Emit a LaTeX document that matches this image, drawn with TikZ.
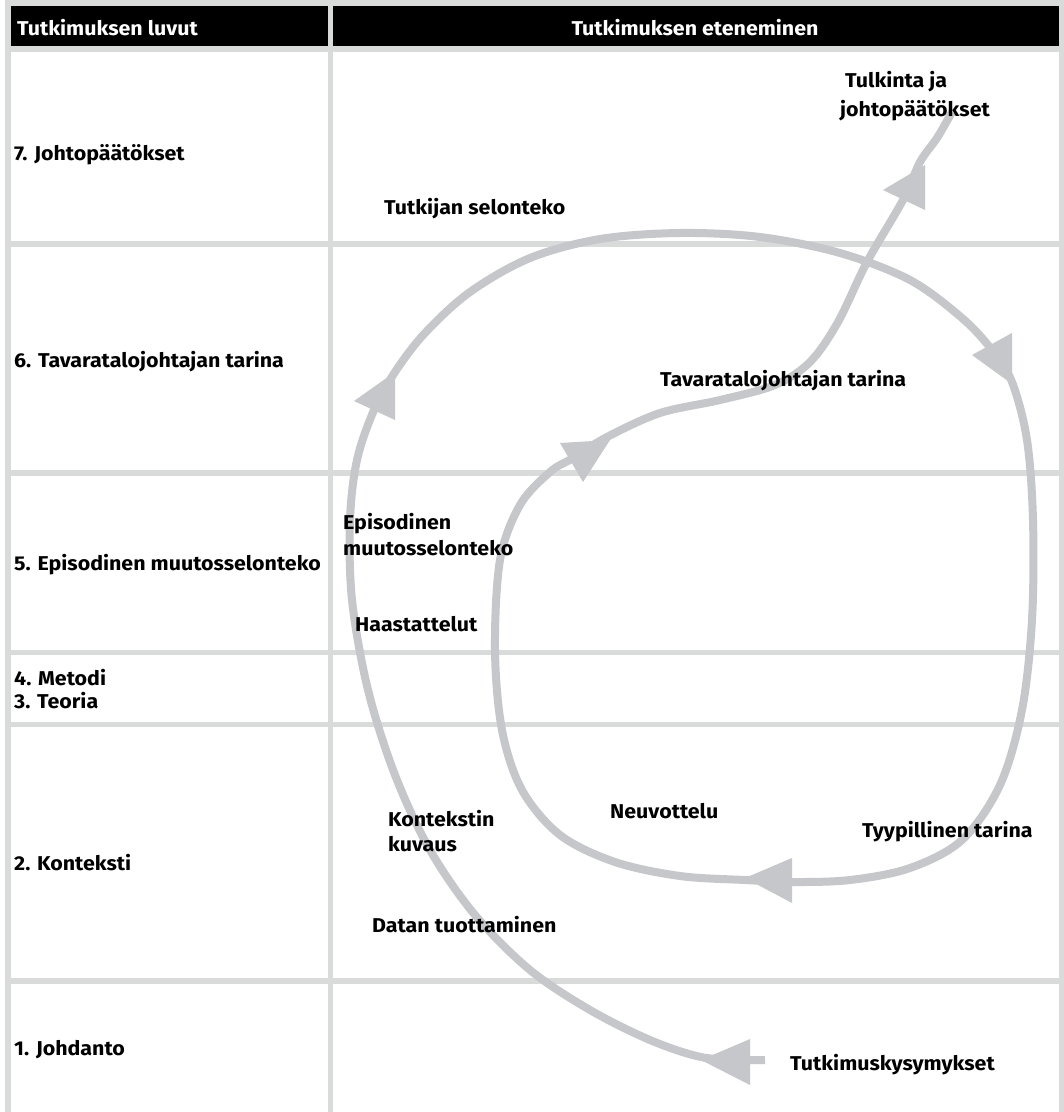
\documentclass[tikz,border=0pt]{standalone}
\usepackage{fontspec}
\setmainfont{Fira Sans}[Ligatures=NoCommon, FakeStretch=1.07]
\definecolor{gridc}{HTML}{D9DBDB}
\definecolor{arrc}{HTML}{C6C7CA}
\begin{document}
\begin{tikzpicture}[x=1pt,y=-1pt,
  lbl/.style={anchor=base west, inner sep=0pt, font=\fontsize{20}{24}\selectfont\bfseries},
  hdr/.style={inner sep=0pt, text=white, font=\fontsize{20}{24}\selectfont\bfseries},
  gridline/.style={draw=gridc, line width=5.5pt},
  flow/.style={draw=arrc, line width=8pt},
  tip/.style={fill=arrc}]
\useasboundingbox (0,0) rectangle (1064,1112);
\fill[white] (0,0) rectangle (1064,1112);
% header
\fill[black] (8,3) rectangle (1061,49);
% grid
\draw[gridline] (5,3) -- (1064,3);
\draw[gridline] (8,0) -- (8,1112);
\draw[gridline] (1061.5,0) -- (1061.5,1112);
\draw[gridline] (330.5,0) -- (330.5,1112);
\foreach \yy in {49,244,473,652.5,724.5,981}
  \draw[gridline] (5,\yy) -- (1064,\yy);
% header texts
\node[hdr, anchor=base west] (h1) at (17,35) {Tutkimuksen luvut};
\node[hdr, anchor=base] (h2) at (695,35) {Tutkimuksen eteneminen};
% left column
\node[lbl] (c7) at (14,160) {7. Johtopäätökset};
\node[lbl] (c6) at (14,367) {6. Tavaratalojohtajan tarina};
\node[lbl] (c5) at (14,570) {5. Episodinen muutosselonteko};
\node[lbl] (c4) at (14,685) {4. Metodi};
\node[lbl] (c3) at (14,708) {3. Teoria};
\node[lbl] (c2) at (14,870) {2. Konteksti};
\node[lbl] (c1) at (14,1055) {1. Johdanto};
% flow path
\path[flow] plot[smooth, tension=0.55] coordinates {
 (765,1060) (745,1060) (701,1057) (650,1040) (590,1010) (530,970) (475,915)
 (430,850) (395,775) (368,690) (352,600) (350,520) (357,460) (374,410)
 (395,372) (425,333) (470,292) (530,258) (600,239) (680,233) (760,237)
 (840,253) (910,280) (962,318) (992,350) (1012,382) (1027,440) (1033,520)
 (1032,620) (1022,710) (1000,785) (962,840) (910,868) (850,880) (792,882)
 (745,880) (680,876) (615,862) (560,835) (522,790) (502,730) (495,650)
 (500,560) (520,505) (550,472) (573,458) (607,437) (660,413) (720,400)
 (775,385) (810,362) (838,322) (867,262) (903,200) (920,162) (937,138) (952,112)};
% arrowheads
\fill[tip] (701,1060) -- (750,1039) -- (750,1085) -- cycle;
\fill[tip] (395,372) -- (354,401) -- (395,420) -- cycle;
\fill[tip] (1012,384) -- (972,355) -- (1012,333) -- cycle;
\fill[tip] (745,878) -- (792,858) -- (792,903) -- cycle;
\fill[tip] (610,440) -- (560,443) -- (583,482) -- cycle;
\fill[tip] (925,165) -- (883,190) -- (925,210) -- cycle;
% flow labels
\node[lbl] (l1) at (845,87) {Tulkinta ja};
\node[lbl] (l2) at (840,116) {johtopäätökset};
\node[lbl] (l3) at (384,214) {Tutkijan selonteko};
\node[lbl] (l4) at (660,386) {Tavaratalojohtajan tarina};
\node[lbl] (l5) at (343,529) {Episodinen};
\node[lbl] (l6) at (343,555) {muutosselonteko};
\node[lbl] (l7) at (355,631) {Haastattelut};
\node[lbl] (l8) at (610,818) {Neuvottelu};
\node[lbl] (l9) at (862,837) {Tyypillinen tarina};
\node[lbl] (l10) at (388,826) {Kontekstin};
\node[lbl] (l11) at (388,851) {kuvaus};
\node[lbl] (l12) at (372,932) {Datan tuottaminen};
\node[lbl] (l13) at (790,1070) {Tutkimuskysymykset};
\end{tikzpicture}
\end{document}
